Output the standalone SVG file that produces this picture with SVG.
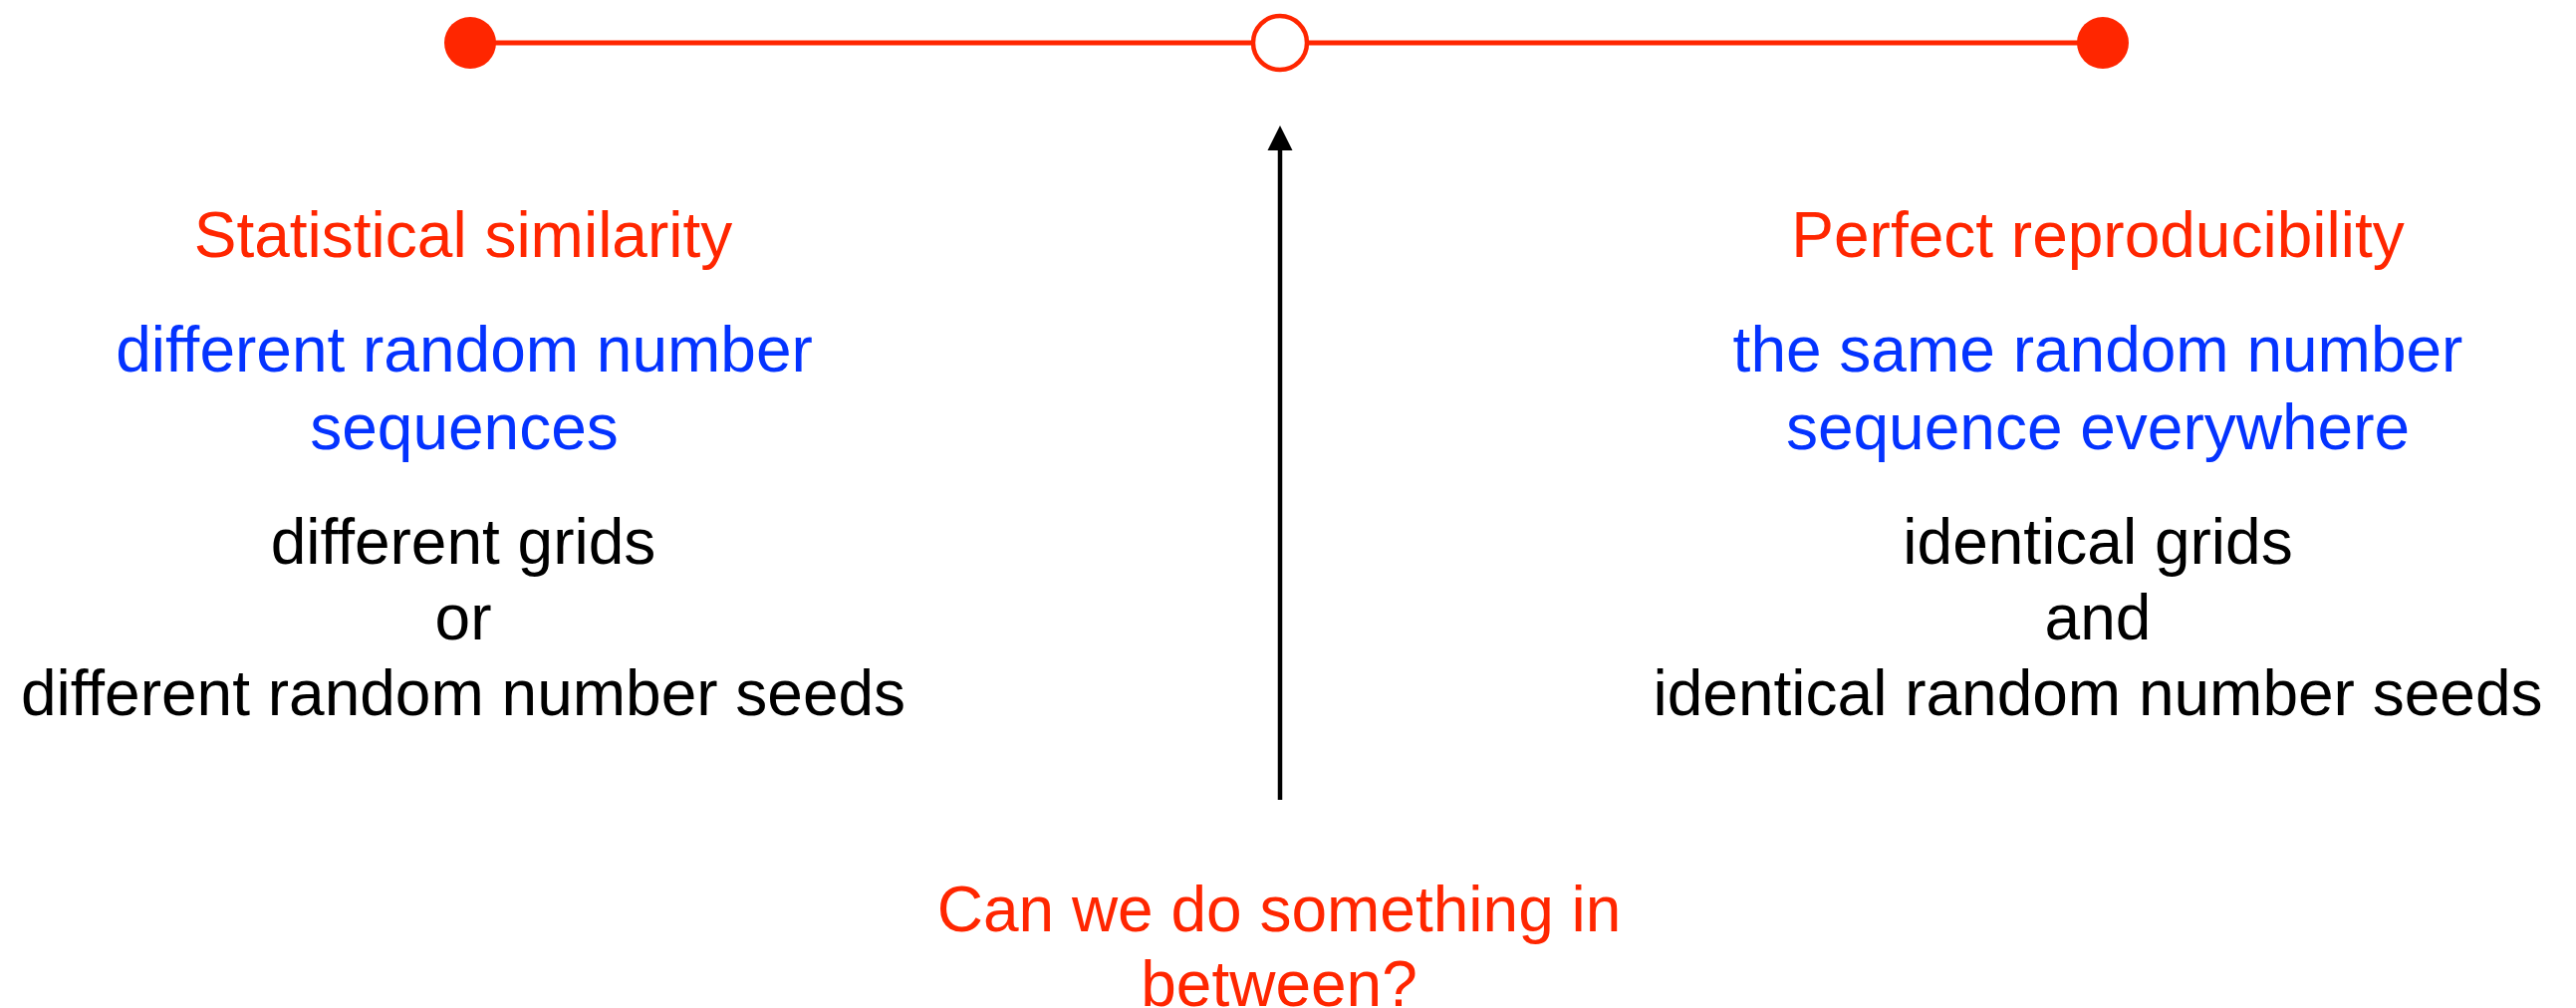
<svg xmlns="http://www.w3.org/2000/svg" width="2586" height="1012" viewBox="0 0 2586 1012">
  <style>
    text { font-family: "Liberation Sans", Arial, Helvetica, sans-serif; font-size: 64px; text-anchor: middle; }
    .red { fill: #FF2600; }
    .blue { fill: #0433FF; }
    .black { fill: #000000; }
  </style>
  <defs>
    <marker id="arrowhead" markerWidth="6" markerHeight="6" refX="0" refY="3" orient="auto" markerUnits="strokeWidth">
      <path d="M0,0 L6,3 L0,6 z" fill="#000"/>
    </marker>
  </defs>
  <rect x="0" y="0" width="2586" height="1012" fill="#ffffff"/>

  <g id="connectors">
    <line id="scale-line" x1="472" y1="43" x2="2111" y2="43" stroke="#FF2600" stroke-width="5"/>
    <line id="arrow" x1="1285" y1="803" x2="1285" y2="150" stroke="#000" stroke-width="4.5"/>
    <polygon points="1285,126 1272.5,151 1297.5,151" fill="#000"/>
  </g>

  <g id="node-left-dot">
    <circle cx="472" cy="43" r="26" fill="#FF2600"/>
  </g>
  <g id="node-middle-dot">
    <circle cx="1285" cy="43" r="27" fill="#ffffff" stroke="#FF2600" stroke-width="4.5"/>
  </g>
  <g id="node-right-dot">
    <circle cx="2111" cy="43" r="26" fill="#FF2600"/>
  </g>

  <g id="node-left">
    <text class="red" x="465" y="258">Statistical similarity</text>
    <text class="blue" x="466" y="373">different random number</text>
    <text class="blue" x="466" y="451">sequences</text>
    <text class="black" x="465" y="566">different grids</text>
    <text class="black" x="465" y="642">or</text>
    <text class="black" x="465" y="718">different random number seeds</text>
  </g>

  <g id="node-right">
    <text class="red" x="2106" y="258">Perfect reproducibility</text>
    <text class="blue" x="2106" y="373">the same random number</text>
    <text class="blue" x="2106" y="451">sequence everywhere</text>
    <text class="black" x="2106" y="566">identical grids</text>
    <text class="black" x="2106" y="642">and</text>
    <text class="black" x="2106" y="718">identical random number seeds</text>
  </g>

  <g id="node-question">
    <text class="red" x="1284" y="935">Can we do something in</text>
    <text class="red" x="1284" y="1010">between?</text>
  </g>
</svg>
